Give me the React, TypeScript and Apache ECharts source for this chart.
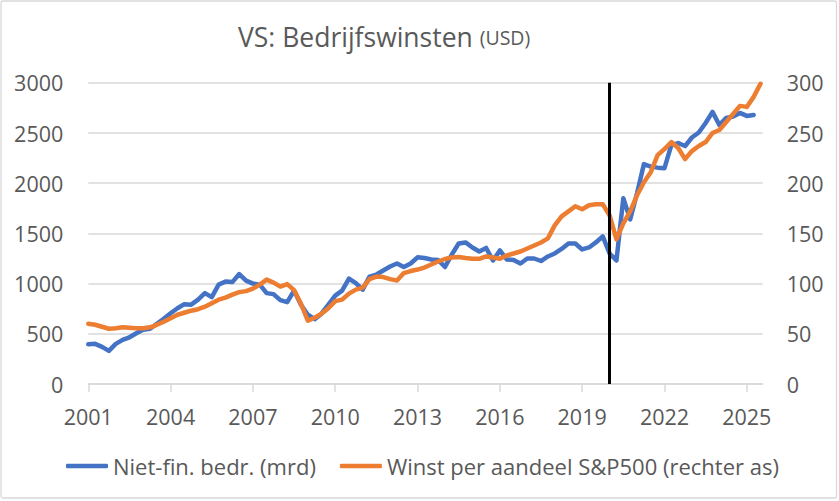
import React, { useEffect, useRef } from "react";
import * as echarts from "echarts";

// quarterly data, 2001 K1 .. 2025 K3
const startYear = 2001;
const yearTicks = [2001, 2004, 2007, 2010, 2013, 2016, 2019, 2022, 2025];
const markerYear = 2020;

// Niet-financiele bedrijven, winst (mrd USD) - linker as
const nonFinProfits = [
  395, 400, 370, 330,
  400, 440, 465, 505,
  540, 550, 600, 650,
  705, 755, 795, 790,
  840, 905, 865, 990,
  1020, 1015, 1095, 1030,
  1000, 990, 905, 895,
  835, 815, 930, 790,
  690, 645, 700, 790,
  880, 930, 1050, 1005,
  940, 1070, 1090, 1130,
  1170, 1200, 1165, 1200,
  1262, 1255, 1240, 1235,
  1165, 1290, 1400, 1410,
  1360, 1320, 1355, 1230,
  1330, 1240, 1235, 1200,
  1250, 1250, 1225, 1270,
  1300, 1345, 1400, 1400,
  1340, 1360, 1410, 1470,
  1300, 1230, 1850, 1640,
  1900, 2190, 2165, 2155,
  2150, 2380, 2400, 2370,
  2455, 2505, 2600, 2710,
  2580, 2650, 2665, 2700,
  2670, 2680,
];

// Winst per aandeel S&P500 - rechter as
const spEps = [
  60, 59, 57, 55,
  55.5, 56.5, 56, 55.5,
  55.5, 56.5, 59, 62,
  65.5, 69, 71, 73,
  74.5, 77, 80.5, 84,
  86, 89, 91.5, 92.5,
  95, 99, 104, 101,
  97, 99.5, 93.5, 80,
  63, 66, 70, 75.5,
  82.5, 84, 90, 94,
  96, 104.5, 107, 106.5,
  104.5, 103, 110.5, 112.5,
  114, 116, 119, 122,
  124.5, 126, 126.5, 125.5,
  124.7, 124.7, 127, 126,
  124.7, 128, 130, 132,
  135, 138, 141, 145,
  158, 167, 172, 177,
  174, 178, 179, 179,
  168, 144, 160, 172,
  188, 201, 211, 228,
  234, 241, 235, 224,
  232, 237, 241, 250,
  253, 261, 269, 277,
  276, 286, 299,
];

const quarterX = (i: number) => startYear + i / 4;

const textColor = "#595959";
const gridColor = "#d9d9d9";
const font = "'Open Sans', 'Noto Sans', sans-serif";

const App = () => {
  const chartRef = useRef<HTMLDivElement>(null);

  useEffect(() => {
    if (!chartRef.current) return;
    const chart = echarts.init(chartRef.current, null, { renderer: "svg" });

    const options = {
      animation: false,
      textStyle: { fontFamily: font },
      title: {
        text: "{a|VS: Bedrijfswinsten }{b|(USD)}",
        left: 238,
        top: 23,
        padding: 0,
        textStyle: {
          fontWeight: "normal",
          rich: {
            a: { fontSize: 26.5, color: textColor, fontFamily: font, fontWeight: "normal", lineHeight: 28 },
            b: { fontSize: 19.5, color: textColor, fontFamily: font, fontWeight: "normal", lineHeight: 28 },
          },
        },
      },
      graphic: [
        {
          type: "rect",
          shape: { x: 1, y: 1, width: 835.5, height: 497, r: 2 },
          style: { fill: "none", stroke: gridColor, lineWidth: 1.3 },
          silent: true,
        },
      ],
      legend: {
        left: 66,
        top: 455,
        padding: 0,
        itemWidth: 42,
        itemHeight: 4.5,
        itemGap: 24,
        icon: "roundRect",
        textStyle: { fontSize: 22, color: textColor, fontFamily: font },
      },
      grid: { left: 88.3, right: 76.3, top: 82.8, bottom: 117, containLabel: false },
      xAxis: {
        type: "value",
        min: 2001,
        max: 2025.58,
        interval: 3,
        axisLine: { show: true, lineStyle: { color: gridColor, width: 1.5 } },
        axisTick: {
          show: true,
          customValues: yearTicks,
          length: 8,
          lineStyle: { color: gridColor, width: 1.5 },
        },
        axisLabel: {
          customValues: yearTicks,
          formatter: (v: number) => String(Math.round(v)),
          fontSize: 21.5,
          color: textColor,
          margin: 21,
          fontFamily: font,
        },
        splitLine: { show: false },
      },
      yAxis: [
        {
          type: "value",
          min: 0,
          max: 3000,
          interval: 500,
          axisLine: { show: false },
          axisTick: { show: false },
          axisLabel: {
            formatter: (v: number) => String(v),
            fontSize: 21.5,
            color: textColor,
            margin: 25,
            fontFamily: font,
          },
          splitLine: { lineStyle: { color: gridColor, width: 1.5 } },
        },
        {
          type: "value",
          min: 0,
          max: 300,
          interval: 50,
          axisLine: { show: false },
          axisTick: { show: false },
          axisLabel: {
            formatter: (v: number) => String(v),
            fontSize: 21.5,
            color: textColor,
            margin: 24,
            fontFamily: font,
          },
          splitLine: { show: false },
        },
      ],
      series: [
        {
          name: "Niet-fin. bedr. (mrd)",
          type: "line",
          yAxisIndex: 0,
          showSymbol: false,
          symbol: "none",
          color: "#4472C4",
          lineStyle: { width: 4.5, color: "#4472C4", cap: "round", join: "round" },
          data: nonFinProfits.map((v, i) => [quarterX(i), v]),
        },
        {
          name: "Winst per aandeel S&P500 (rechter as)",
          type: "line",
          yAxisIndex: 1,
          showSymbol: false,
          symbol: "none",
          color: "#ED7D31",
          lineStyle: { width: 4.5, color: "#ED7D31", cap: "round", join: "round" },
          data: spEps.map((v, i) => [quarterX(i), v]),
          markLine: {
            silent: true,
            symbol: "none",
            label: { show: false },
            lineStyle: { color: "#000000", width: 3, type: "solid" },
            data: [{ xAxis: markerYear }],
          },
        },
      ],
    };

    chart.setOption(options);
    return () => chart.dispose();
  }, []);

  return (
    <div
      ref={chartRef}
      style={{ position: "absolute", left: 0, top: 0, width: "839px", height: "501px", background: "#ffffff" }}
    />
  );
};

export default App;
